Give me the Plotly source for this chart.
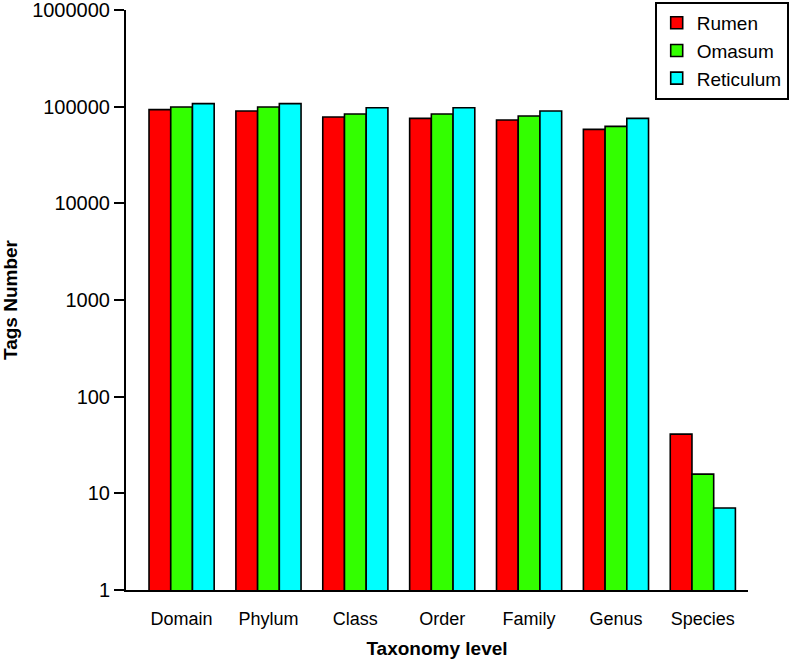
import plotly.graph_objects as go

categories = ["Domain", "Phylum", "Class", "Order", "Family", "Genus", "Species"]
rumen = [93100, 90300, 78200, 75700, 72900, 58200, 41]
omasum = [99300, 99300, 84000, 84000, 80100, 62600, 15.8]
reticulum = [107400, 107400, 97600, 97600, 90300, 75700, 7.05]
series_names = ["Rumen", "Omasum", "Reticulum"]
series_colors = ["#FF0000", "#33FF00", "#00FFFF"]
ytick_vals = [1, 10, 100, 1000, 10000, 100000, 1000000]
ytick_text = ["1", "10", "100", "1000", "10000", "100000", "1000000"]

fig = go.Figure()
for name, vals, col in zip(series_names, [rumen, omasum, reticulum], series_colors):
    fig.add_trace(go.Bar(
        x=categories, y=vals, name=name,
        marker=dict(color=col, line=dict(color="black", width=1.6)),
    ))

font_family = "Liberation Sans, Arial, sans-serif"
fig.update_layout(
    width=792, height=661,
    margin=dict(l=126, r=44, t=10, b=71, autoexpand=False),
    paper_bgcolor="white", plot_bgcolor="white",
    barmode="group", bargap=0.25, bargroupgap=0,
    font=dict(family=font_family, color="black"),
    showlegend=True,
    legend=dict(
        x=0.850, y=1.014, xanchor="left", yanchor="top",
        bordercolor="black", borderwidth=2, bgcolor="white",
        font=dict(size=19, family=font_family),
        itemwidth=30, tracegroupgap=0,
    ),
    xaxis=dict(
        range=[-0.64, 6.52],
        showline=True, linecolor="black", linewidth=2,
        ticks="", showgrid=False, zeroline=False,
        tickfont=dict(size=18), ticklabelstandoff=11,
        title=dict(text="<b>Taxonomy level</b>", font=dict(size=19), standoff=14),
    ),
    yaxis=dict(
        type="log", range=[0, 6],
        tickvals=ytick_vals, ticktext=ytick_text,
        showline=True, linecolor="black", linewidth=2,
        ticks="outside", ticklen=10, tickwidth=2, tickcolor="black",
        showgrid=False, zeroline=False, ticklabeloverflow="allow",
        tickfont=dict(size=20),
        title=dict(text="<b>Tags Number</b>", font=dict(size=19), standoff=12),
    ),
)

fig.write_html("out.html", config={"displayModeBar": False},
               post_script="document.body.style.margin='0';")
